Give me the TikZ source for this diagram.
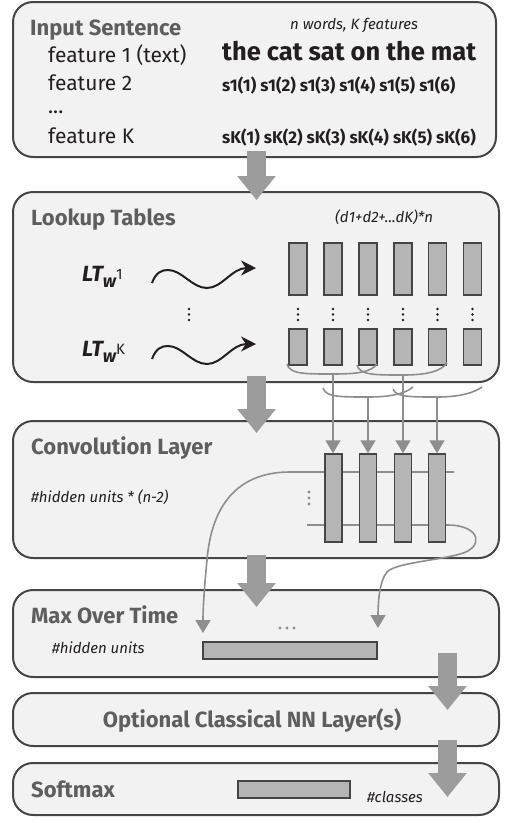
\documentclass[tikz,border=0pt]{standalone}
\usepackage{fontspec}
\setmainfont{Fira Sans}
\usetikzlibrary{arrows.meta,calc}
\definecolor{boxfill}{HTML}{F2F2F2}
\definecolor{boxline}{HTML}{454545}
\definecolor{titlegray}{HTML}{5E5E5E}
\definecolor{colfill}{HTML}{B5B5B5}
\definecolor{thinc}{HTML}{8E8E8E}
\definecolor{bigarr}{HTML}{9C9C9C}
\definecolor{txt}{HTML}{231F20}
\begin{document}
\begin{tikzpicture}[x=1pt,y=-1pt,
  layer/.style={draw=boxline, fill=boxfill, line width=2pt, rounded corners=20pt, inner sep=0pt},
  title/.style={anchor=base west, inner sep=0pt, text=titlegray, font=\fontsize{22}{22}\selectfont\bfseries},
  body/.style={anchor=base west, inner sep=0pt, text=txt, font=\fontsize{21}{21}\selectfont},
  note/.style={anchor=base west, inner sep=0pt, text=txt, font=\fontsize{15}{15}\selectfont\itshape},
  bigtext/.style={anchor=base west, inner sep=0pt, text=txt, font=\fontsize{25.5}{25.5}\selectfont\bfseries},
  seq/.style={anchor=base west, inner sep=0pt, text=txt, font=\fontsize{17}{17}\selectfont\bfseries},
  ltlabel/.style={anchor=base west, inner sep=0pt, text=txt},
  col/.style={draw=boxline, fill=colfill, line width=1.5pt, inner sep=0pt, minimum width=18pt},
  bar/.style={draw=boxline, fill=colfill, line width=1.5pt, inner sep=0pt},
  bigarrow/.style={draw=bigarr, line width=19pt, -{Triangle[width=37pt,length=24pt]}},
  thinline/.style={draw=thinc, line width=1.6pt},
  thinarrow/.style={draw=thinc, line width=1.6pt, -{Triangle[width=15pt,length=13pt]}},
  wave/.style={draw=txt, line width=2pt, -{Stealth[width=15pt,length=15pt]}},
  dotc/.style={fill=txt, draw=none},
  gdot/.style={fill=thinc, draw=none}
]
\useasboundingbox (0,0) rectangle (514,820);

% layer boxes
\node[layer, minimum width=483pt, minimum height=155pt] (inp) at (254.5,79.5) {};
\node[layer, minimum width=486pt, minimum height=190pt] (lut) at (256,287) {};
\node[layer, minimum width=486pt, minimum height=137pt] (conv) at (256,489.5) {};
\node[layer, minimum width=486pt, minimum height=87pt] (mot) at (256,633.5) {};
\node[layer, minimum width=486pt, minimum height=53pt] (opt) at (256,719.5) {};
\node[layer, minimum width=486pt, minimum height=52pt] (smx) at (256,789) {};

% input sentence
\node[title] (tin) at (30,35) {Input Sentence};
\node[note] (nw) at (290,29) {n words, K features};
\node[body] (f1) at (48,62) {feature 1 (text)};
\node[body] (f2) at (48,90) {feature 2};
\node[body] (fd) at (48,113) {...};
\node[body] (fk) at (48,143) {feature K};
\node[bigtext] (sent) at (222,60) {the cat sat on the mat};
\node[seq] (s1) at (222,91) {s1(1) s1(2) s1(3) s1(4) s1(5) s1(6)};
\node[seq] (sk) at (222,143) {sK(1) sK(2) sK(3) sK(4) sK(5) sK(6)};

% lookup tables
\node[title] (tlu) at (31,225) {Lookup Tables};
\node[note] (dim) at (335,222) {(d1+d2+...dK)*n};
\node[ltlabel] (lt1) at (82,281) {\fontsize{22}{22}\selectfont\bfseries\itshape LT\raisebox{-6pt}{\fontsize{18}{18}\selectfont w}\raisebox{2pt}{\fontsize{15}{15}\selectfont\upshape\mdseries 1}};
\node[ltlabel] (ltk) at (82,356) {\fontsize{22}{22}\selectfont\bfseries\itshape LT\raisebox{-6pt}{\fontsize{18}{18}\selectfont w}\raisebox{2pt}{\fontsize{15}{15}\selectfont\upshape\mdseries K}};
\coordinate (w1s) at (152,283);
\coordinate (w1e) at (256,268);
\coordinate (wks) at (152,359);
\coordinate (wke) at (256,344);
\draw[wave] (w1s) .. controls (156,272) and (162,270) .. (168,270) .. controls (182,270) and (192,288) .. (207,288) .. controls (222,288) and (232,268) .. (w1e);
\draw[wave] (wks) .. controls (156,348) and (162,346) .. (168,346) .. controls (182,346) and (192,364) .. (207,364) .. controls (222,364) and (232,344) .. (wke);
\foreach \yy in {309,314.5,320} \fill[dotc] (189,\yy) circle (1.4pt);

\foreach \i/\xx in {1/298,2/333,3/368,4/403,5/437.5,6/472.5} {
  \node[col, minimum height=52pt] (t\i) at (\xx,269) {};
  \node[col, minimum height=36pt] (k\i) at (\xx,347) {};
  \foreach \yy in {309,314.5,320} \fill[dotc] (\xx,\yy) circle (1.3pt);
}

% convolution layer
\node[title] (tcv) at (31,454) {Convolution Layer};
\node[note] (hu2) at (31,502) {\#hidden units * (n-2)};

% max over time
\node[title] (tmo) at (31,623) {Max Over Time};
\node[note] (hu) at (52,653) {\#hidden units};
\node[bar, minimum width=174pt, minimum height=17pt] (mbar) at (290,650.5) {};
\foreach \xx in {280,287,294} \fill[gdot] (\xx,628) circle (1.6pt);
\coordinate (ml) at (203,633);
\coordinate (mr) at (378,628);

% conv feature lines (behind columns)
\draw[thinline, -{Triangle[width=15pt,length=13pt]}] (454,472) -- (290,472) .. controls (242,472) and (212,500) .. (207,560) .. controls (204,590) and (203,610) .. (ml);
\draw[thinline, -{Triangle[width=15pt,length=13pt]}] (307,525) -- (447,525) .. controls (482,525) and (484,548) .. (460,554) .. controls (440,560) and (395,563) .. (387,572) .. controls (380,580) and (378,600) .. (mr);
\foreach \yy in {492,498,504} \fill[gdot] (309,\yy) circle (1.6pt);

\foreach \i/\xx in {1/333.5,2/368,3/403,4/437} {
  \node[col, minimum width=17pt, minimum height=88pt] (c\i) at (\xx,498) {};
}

% brackets from lookup columns
\draw[thinline] (287,364) .. controls (290,374) and (303,374) .. (333,374) coordinate (br1) .. controls (358,374) and (371,372) .. (377,364);
\draw[thinline] (357,365) .. controls (360,375) and (373,375) .. (403,375) coordinate (br3) .. controls (428,375) and (441,371) .. (447,363);
\draw[thinline] (323,388) .. controls (326,397) and (339,397) .. (368,397) coordinate (br2) .. controls (393,397) and (406,393) .. (413,387);
\draw[thinline] (393,389) .. controls (396,397) and (409,397) .. (437,397) coordinate (br4) .. controls (462,397) and (475,392) .. (482,387);
\draw[thinarrow] (br1) -- (br1 |- c1.north);
\draw[thinarrow] (br2) -- (br2 |- c2.north);
\draw[thinarrow] (br3) -- (br3 |- c3.north);
\draw[thinarrow] (br4) -- (br4 |- c4.north);

% optional
\node[title, anchor=base] (top) at (252,727) {Optional Classical NN Layer(s)};

% softmax
\node[title] (tsm) at (31,797) {Softmax};
\node[bar, minimum width=112pt, minimum height=17pt] (sbar) at (294,789.5) {};
\node[note] (ncl) at (367,802) {\#classes};

% thick arrows between layers
\draw[bigarrow] (256.5,151) -- (256.5,200);
\draw[bigarrow] (256.5,376) -- (256.5,433);
\draw[bigarrow] (256.5,555) -- (256.5,607);
\draw[bigarrow] (447.5,653) -- (447.5,710);
\draw[bigarrow] (447.5,740) -- (447.5,797);
\end{tikzpicture}
\end{document}
